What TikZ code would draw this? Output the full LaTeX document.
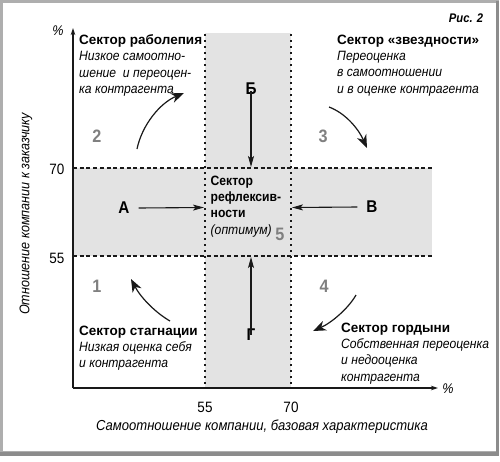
\documentclass[tikz,border=0pt]{standalone}
\usepackage{fontspec}
\setmainfont{Liberation Sans}[FakeStretch=0.9]
\newfontfamily\widesans{Liberation Sans}
\usetikzlibrary{arrows.meta}
\definecolor{bandgray}{RGB}{227,227,227}
\definecolor{framegray}{RGB}{140,140,140}
\definecolor{numgray}{RGB}{128,128,128}
\definecolor{ink}{RGB}{25,25,25}
\newcommand{\hd}[1]{{\widesans\bfseries #1}}
\tikzset{
  vdots/.style={ink, line width=2.2pt, dash pattern=on 2.2pt off 3.8pt},
  hdots/.style={ink, line width=2pt, dash pattern=on 4pt off 2.7pt},
  axisline/.style={ink, line width=1.1pt, -{Stealth[length=7pt,width=4.5pt]}},
  straightarr/.style={ink, line width=1.1pt, -{Stealth[length=11pt,width=6pt,inset=2.5pt]}},
  curvearr/.style={ink, line width=1.2pt, -{Stealth[length=13pt,width=10pt,inset=4pt]}},
  body/.style={inner sep=0pt, align=left, anchor=north west, font=\fontsize{13.5}{16.3}\selectfont},
  letter/.style={inner sep=0pt, font=\fontsize{17}{17}\selectfont\bfseries},
  gnum/.style={inner sep=0pt, text=numgray, font=\fontsize{18}{18}\selectfont\bfseries},
  tick/.style={inner sep=0pt, font=\fontsize{15}{15}\selectfont},
  axlabel/.style={inner sep=0pt, font=\fontsize{14}{14}\selectfont\itshape},
}
\begin{document}
\begin{tikzpicture}[x=1pt,y=-1pt]
\useasboundingbox (0,0) rectangle (500,461);
\fill[white] (0,0) rectangle (500,461);
% frame
\draw[framegray!70, line width=2.5pt] (1.25,1.25) rectangle (497.5,452.5);
\draw[framegray, line width=3.5pt] (497.5,1) -- (497.5,454.2) -- (0,454.2);
% shaded bands
\fill[bandgray] (205,33) rectangle (291,388);
\fill[bandgray] (73,168) rectangle (432,256);
% dotted boundaries
\draw[vdots] (205,34) -- (205,388);
\draw[vdots] (291,34) -- (291,388);
\draw[hdots] (73,168) -- (432,168);
\draw[hdots] (73,256) -- (432,256);
% axes
\coordinate (O) at (73,388);
\coordinate (Ytop) at (73,28);
\coordinate (Xend) at (438,388);
\draw[axisline] (O) -- (Ytop);
\draw[axisline] (O) -- (Xend);
\node[axlabel] (ypct) at (58,31) {\%};
\node[axlabel] (xpct) at (448,389) {\%};
\node[tick] (y70) at (57,169) {70};
\node[tick] (y55) at (57,258) {55};
\node[tick] (x55) at (205,407) {55};
\node[tick] (x70) at (291,407) {70};
\node[axlabel, font=\fontsize{14.5}{14.5}\selectfont\itshape] (xlab) at (262,427) {Самоотношение компании, базовая характеристика};
\node[axlabel, rotate=90] (ylab) at (26,214) {Отношение компании к заказчику};
\node[inner sep=0pt, font=\fontsize{12.5}{12.5}\selectfont\bfseries\itshape] (fig) at (466,18) {Рис. 2};
% sector texts
\node[body] (s2) at (79,34.5) {\hd{Сектор раболепия}\\ \textit{Низкое самоотно-}\\ \textit{шение\ \ и переоцен-}\\ \textit{ка контрагента}};
\node[body] (s3) at (337,34.5) {\hd{Сектор «звездности»}\\ \textit{Переоценка}\\ \textit{в самоотношении}\\ \textit{и в оценке контрагента}};
\node[body] (s5) at (210.5,175.5) {\textbf{Сектор}\\ \textbf{рефлексив-}\\ \textbf{ности}\\ \textit{(оптимум)}};
\node[body] (s1) at (79,325.5) {\hd{Сектор стагнации}\\ \textit{Низкая оценка себя}\\ \textit{и контрагента}};
\node[body] (s4) at (341,322.5) {\hd{Сектор гордыни}\\ \textit{Собственная переоценка}\\ \textit{и недооценка}\\ \textit{контрагента}};
% gray numbers
\node[gnum] (n2) at (97,136) {2};
\node[gnum] (n3) at (323,136) {3};
\node[gnum] (n1) at (97,286) {1};
\node[gnum] (n4) at (324,286) {4};
\node[gnum] (n5) at (280,234) {5};
% letters and straight arrows
\node[letter] (LB) at (251,89) {Б};
\node[letter] (LA) at (124,208) {А};
\node[letter] (LV) at (372,207) {В};
\node[letter] (LG) at (251,335) {Г};
\coordinate (tB) at (251,167);
\coordinate (tA) at (204,207.5);
\coordinate (tV) at (292,207.5);
\coordinate (tG) at (251,257);
\draw[straightarr] (LB.south) ++(0,-4) -- (tB);
\draw[straightarr] (LA.east) ++(9,0) -- (tA);
\draw[straightarr] (LV.west) ++(-9,0) -- (tV);
\draw[straightarr] (LG.north) ++(0,6) -- (tG);
% curved arrows
\coordinate (c2a) at (137,149); \coordinate (c2b) at (184,93);
\coordinate (c3a) at (329,107); \coordinate (c3b) at (367,148);
\coordinate (c1a) at (170,321); \coordinate (c1b) at (131,279);
\coordinate (c4a) at (356,295); \coordinate (c4b) at (313,331);
\draw[curvearr] (c2a) .. controls (142,125) and (160,103) .. (c2b);
\draw[curvearr] (c3a) .. controls (345,113) and (358,128) .. (c3b);
\draw[curvearr] (c1a) .. controls (156,313) and (141,298) .. (c1b);
\draw[curvearr] (c4a) .. controls (348,309) and (331,323) .. (c4b);
\end{tikzpicture}
\end{document}
